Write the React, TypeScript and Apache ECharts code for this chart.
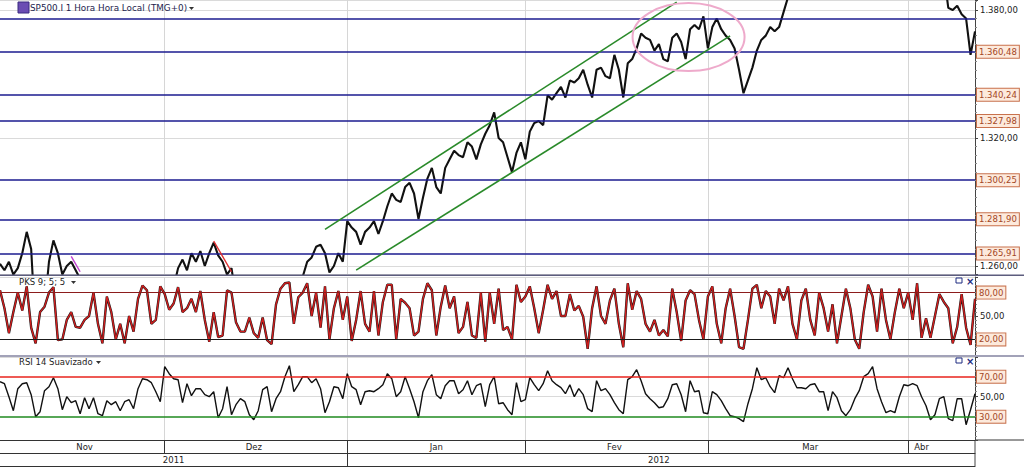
import React, { useEffect, useRef } from 'react';
import * as echarts from 'echarts';

// ---------- data ----------
const monthNames = ['Nov', 'Dez', 'Jan', 'Fev', 'Mar', 'Abr'];
const monthSamples = [37, 41, 40, 41, 45, 16];
const monthLabelAt = [19, 57, 98, 138, 182, 207];
const yearNames = ['2011', '2012'];
const yearLabelAt = [39, 148];

const price = [
  1261, 1258, 1262, 1256, 1259, 1266, 1276, 1268, 1230, 1236,
  1240, 1262, 1272, 1266, 1256, 1260, 1262, 1258, 1254, 1245,
  1236, 1225, 1218, 1216, 1222, 1212, 1200, 1193, 1188, 1180,
  1163, 1160, 1158, 1175, 1192, 1196, 1240,
  1246, 1244, 1250, 1259, 1263, 1258, 1266, 1262, 1267, 1260,
  1266, 1271, 1265, 1262, 1256, 1259, 1245, 1236, 1232, 1225,
  1214, 1210, 1215, 1220, 1210, 1203, 1225, 1240, 1244, 1248,
  1254, 1255, 1262, 1264, 1269, 1270, 1266, 1257, 1260, 1266, 1262,
  1281, 1278, 1276, 1270, 1276, 1278, 1281, 1275, 1281, 1288,
  1294, 1291, 1290, 1297, 1299, 1294, 1282, 1292, 1301, 1306,
  1297, 1294, 1306, 1310, 1314, 1312, 1311, 1318, 1316, 1310,
  1317, 1322, 1326, 1332, 1320, 1318, 1311, 1304, 1313, 1318,
  1310, 1323, 1327, 1328, 1326, 1340, 1338, 1341, 1344, 1339,
  1347, 1346, 1348, 1352, 1345, 1339, 1352, 1353, 1349, 1348,
  1359, 1352, 1339, 1355, 1357, 1362, 1369, 1367, 1366, 1361,
  1364, 1357, 1356, 1367, 1369, 1365, 1357, 1371, 1373, 1371, 1377,
  1362, 1372, 1376, 1371, 1368, 1366, 1362, 1352, 1341, 1347,
  1353, 1361, 1366, 1368, 1372, 1370, 1372, 1379, 1386, 1395,
  1396, 1394, 1398, 1402, 1403, 1405, 1404, 1408, 1409, 1406,
  1403, 1405, 1398, 1392, 1395, 1397, 1410, 1416, 1414, 1408,
  1405, 1401, 1404, 1406, 1409,
  1416, 1420, 1417, 1413, 1410, 1402, 1398, 1400, 1397, 1381,
  1380, 1382, 1378, 1376, 1359, 1370,
];

const pks = [
  83, 60, 28, 55, 80, 57, 88, 35, 15, 55,
  62, 80, 87, 19, 20, 45, 55, 36, 35, 45,
  50, 80, 40, 15, 75, 55, 20, 40, 15, 50,
  30, 72, 89, 83, 40, 45, 88,
  78, 58, 66, 87, 55, 60, 72, 55, 82, 45,
  17, 55, 23, 25, 83, 80, 42, 30, 30, 48,
  28, 22, 48, 19, 14, 65, 85, 92, 93, 40,
  74, 80, 92, 50, 80, 35, 88, 20, 60, 82, 45,
  75, 18, 45, 82, 40, 30, 82, 25, 68, 90,
  90, 20, 72, 67, 60, 25, 30, 72, 92, 83,
  25, 62, 89, 60, 75, 28, 36, 68, 25, 22,
  80, 17, 80, 40, 85, 32, 36, 20, 90, 68,
  75, 88, 60, 28, 58, 90, 72, 82, 50, 50,
  78, 57, 63, 49, 8, 60, 88, 50, 40, 70,
  85, 40, 10, 92, 58, 82, 72, 40, 30, 45,
  25, 32, 24, 85, 55, 18, 70, 83, 78, 45, 20,
  75, 88, 40, 15, 60, 85, 50, 10, 8, 45,
  85, 90, 60, 82, 75, 40, 85, 70, 88, 40,
  20, 70, 85, 45, 25, 80, 60, 30, 65, 15,
  50, 85, 60, 20, 8, 55, 90, 75, 30, 85,
  45, 20, 55, 85, 60,
  80, 45, 92, 22, 47, 22, 50, 78, 68, 60,
  15, 36, 78, 35, 13, 72,
];

const rsi = [
  65, 63, 50, 36, 58, 63, 64, 52, 30, 35,
  56, 60, 69, 58, 37, 50, 44, 46, 33, 49,
  38, 49, 33, 31, 46, 42, 45, 36, 45, 47,
  38, 58, 68, 67, 64, 55, 45,
  80, 73, 68, 67, 44, 63, 51, 58, 58, 52,
  50, 55, 29, 38, 60, 32, 42, 48, 45, 32,
  27, 36, 57, 60, 35, 48, 55, 70, 81, 55,
  62, 70, 70, 64, 68, 58, 34, 45, 60, 59, 48,
  73, 60, 57, 42, 55, 56, 55, 58, 62, 73,
  68, 50, 55, 70, 58, 45, 29, 55, 66, 72,
  52, 48, 61, 66, 66, 53, 57, 66, 52, 61,
  63, 40, 62, 70, 43, 44, 37, 32, 64, 45,
  47, 69, 62, 56, 63, 76, 66, 62, 59, 53,
  62, 50, 58, 52, 38, 35, 66, 56, 58, 52,
  44, 37, 33, 67, 70, 77, 66, 53, 48, 44,
  39, 40, 48, 62, 63, 52, 35, 66, 55, 56, 34,
  33, 55, 52, 46, 38, 31, 30, 28, 25, 43,
  58, 79, 67, 69, 60, 54, 71, 69, 79, 68,
  59, 59, 58, 62, 63, 55, 55, 36, 55, 49,
  36, 31, 37, 48, 56, 70, 73, 80, 58, 45,
  34, 36, 34, 50, 62,
  61, 63, 61, 50, 41, 27, 32, 48, 50, 28,
  26, 48, 48, 22, 37, 53,
];

const priceTicks = [1260, 1320, 1380];
const levels = [1375.8, 1360.48, 1340.24, 1327.98, 1300.25, 1281.9, 1265.91];
const levelLabeled = [false, true, true, true, true, true, true];
const channelUpper = [[73, 1277.2], [152, 1383.7]];
const channelLower = [[80, 1258.1], [164, 1367.9]];
const magentaLine = [[16, 1264.5], [18, 1257.3]];
const redLine = [[48, 1271.7], [52, 1257.3]];
const ellipseCenter = [155, 1367.3];
const pksLevels = [80, 20];
const rsiLevels = [70, 30];

// ---------- helpers ----------
const FONT = 'DejaVu Sans';
const fmt = (v: number) => {
  const [i, d] = v.toFixed(2).split('.');
  return i.replace(/\B(?=(\d{3})+(?!\d))/g, '.') + ',' + d;
};

const categories: string[] = [];
monthNames.forEach((m, mi) => {
  for (let k = 0; k < monthSamples[mi]; k++) categories.push(`${m} ${k + 1}`);
});
const monthStarts: number[] = [];
{
  let acc = 0;
  monthSamples.forEach((n) => {
    monthStarts.push(acc);
    acc += n;
  });
}
const boundaries = monthStarts.slice(1);
const yearBoundary = monthStarts[monthNames.indexOf('Jan')];

const boxLabel = (text: string) => ({
  show: true,
  position: 'end',
  distance: 2,
  formatter: text,
  color: '#a3461f',
  backgroundColor: '#fdeadc',
  borderColor: '#c8714d',
  borderWidth: 1,
  padding: [2, 2, 1, 2],
  fontSize: 8.5,
  fontFamily: FONT,
});

const baseX = (gridIndex: number) => ({
  type: 'category',
  gridIndex,
  data: categories,
  boundaryGap: false,
  position: 'bottom',
  axisLine: { show: false },
  axisTick: { show: false },
  axisLabel: { show: false },
  splitLine: {
    show: true,
    interval: (i: number) => boundaries.includes(i),
    lineStyle: { color: '#d6d6d6', width: 1 },
  },
});

const axisText = { fontSize: 8.5, fontFamily: FONT, color: '#222' };

const option: any = {
  animation: false,
  backgroundColor: '#ffffff',
  textStyle: { fontFamily: FONT },
  grid: [
    { left: 0, right: 49, top: 0, height: 274 },
    { left: 0, right: 49, top: 277, height: 78 },
    { left: 0, right: 49, top: 357, height: 83 },
  ],
  xAxis: [
    baseX(0),
    baseX(1),
    {
      ...baseX(2),
      axisLine: { show: true, lineStyle: { color: '#333', width: 1 } },
      axisTick: {
        show: true,
        interval: (i: number) => boundaries.includes(i),
        length: 13,
        lineStyle: { color: '#333' },
      },
      axisLabel: {
        show: true,
        interval: (i: number) => monthLabelAt.includes(i),
        formatter: (v: string) => v.split(' ')[0],
        margin: 2,
        ...axisText,
      },
    },
    {
      type: 'category',
      gridIndex: 2,
      data: categories,
      boundaryGap: false,
      position: 'bottom',
      offset: 13,
      axisLine: { show: true, lineStyle: { color: '#333', width: 1 } },
      axisTick: {
        show: true,
        interval: (i: number) => i === yearBoundary,
        length: 13,
        lineStyle: { color: '#333' },
      },
      axisLabel: {
        show: true,
        interval: (i: number) => yearLabelAt.includes(i),
        formatter: (_v: string, i: number) => (i < yearBoundary ? yearNames[0] : yearNames[1]),
        margin: 2,
        ...axisText,
      },
      splitLine: { show: false },
    },
  ],
  yAxis: [
    {
      type: 'value',
      gridIndex: 0,
      position: 'right',
      min: 1256.25,
      max: 1384.7,
      minInterval: 60,
      maxInterval: 60,
      axisLine: { show: true, lineStyle: { color: '#444' } },
      axisTick: { show: true, length: 3, lineStyle: { color: '#444' } },
      minorTick: { show: true, splitNumber: 15, length: 2, lineStyle: { color: '#888' } },
      axisLabel: {
        formatter: (v: number) => (priceTicks.includes(Math.round(v * 100) / 100) ? fmt(v) : ''),
        margin: 5,
        ...axisText,
      },
      splitLine: { show: true, lineStyle: { color: '#dadada' } },
    },
    {
      type: 'value',
      gridIndex: 1,
      position: 'right',
      min: 0,
      max: 100,
      minInterval: 50,
      maxInterval: 50,
      axisLine: { show: true, lineStyle: { color: '#444' } },
      axisTick: { show: true, length: 3, lineStyle: { color: '#444' } },
      minorTick: { show: true, splitNumber: 10, length: 2, lineStyle: { color: '#888' } },
      axisLabel: { formatter: (v: number) => (v === 50 ? fmt(v) : ''), margin: 5, ...axisText },
      splitLine: { show: true, lineStyle: { color: '#dadada' } },
    },
    {
      type: 'value',
      gridIndex: 2,
      position: 'right',
      min: 6.7,
      max: 89.7,
      minInterval: 50,
      maxInterval: 50,
      axisLine: { show: true, lineStyle: { color: '#444' } },
      axisTick: { show: true, length: 3, lineStyle: { color: '#444' } },
      minorTick: { show: true, splitNumber: 10, length: 2, lineStyle: { color: '#888' } },
      axisLabel: { formatter: (v: number) => (v === 50 ? fmt(v) : ''), margin: 5, ...axisText },
      splitLine: { show: true, lineStyle: { color: '#dadada' } },
    },
  ],
  series: [
    {
      name: 'SP500.I',
      type: 'line',
      xAxisIndex: 0,
      yAxisIndex: 0,
      data: price,
      symbol: 'none',
      clip: true,
      lineStyle: { color: '#111111', width: 2.1 },
      markLine: {
        silent: true,
        symbol: ['none', 'none'],
        data: [
          ...levels.map((v, k) => ({
            yAxis: v,
            lineStyle: { color: '#1b1b8f', width: 1.6, type: 'solid' },
            label: levelLabeled[k] ? boxLabel(fmt(v)) : { show: false },
          })),
          [
            { coord: channelUpper[0], lineStyle: { color: '#2a8a2a', width: 1.6, type: 'solid' }, label: { show: false } },
            { coord: channelUpper[1] },
          ],
          [
            { coord: channelLower[0], lineStyle: { color: '#2a8a2a', width: 1.6, type: 'solid' }, label: { show: false } },
            { coord: channelLower[1] },
          ],
          [
            { coord: magentaLine[0], lineStyle: { color: '#c040d0', width: 1.4, type: 'solid' }, label: { show: false } },
            { coord: magentaLine[1] },
          ],
          [
            { coord: redLine[0], lineStyle: { color: '#e03030', width: 1.4, type: 'solid' }, label: { show: false } },
            { coord: redLine[1] },
          ],
        ],
      },
    },
    {
      name: 'PKS fast',
      type: 'line',
      xAxisIndex: 1,
      yAxisIndex: 1,
      data: pks,
      symbol: 'none',
      lineStyle: { color: '#1a1a1a', width: 2.4 },
    },
    {
      name: 'PKS 9; 5; 5',
      type: 'line',
      xAxisIndex: 1,
      yAxisIndex: 1,
      data: pks,
      symbol: 'none',
      lineStyle: { color: '#d01e1e', width: 1.4 },
      markLine: {
        silent: true,
        symbol: ['none', 'none'],
        data: pksLevels.map((v, k) => ({
          yAxis: v,
          lineStyle: { color: k === 0 ? '#8c1c1c' : '#1a1a1a', width: 1, type: 'solid' },
          label: boxLabel(fmt(v)),
        })),
      },
    },
    {
      name: 'RSI 14 Suavizado',
      type: 'line',
      xAxisIndex: 2,
      yAxisIndex: 2,
      data: rsi,
      symbol: 'none',
      lineStyle: { color: '#111111', width: 1.4 },
      markLine: {
        silent: true,
        symbol: ['none', 'none'],
        data: rsiLevels.map((v, k) => ({
          yAxis: v,
          lineStyle: { color: k === 0 ? '#e8231d' : '#1f8a1f', width: 1.6, type: 'solid' },
          label: boxLabel(fmt(v)),
        })),
      },
    },
  ],
};

const navy = '#1c2a80';
const staticGraphic = [
  { type: 'rect', shape: { x: 18, y: 2, width: 11, height: 11 }, style: { fill: '#6b4db3', stroke: '#3b2a80', lineWidth: 1 } },
  { type: 'text', x: 30, y: 8, style: { text: 'SP500.I 1 Hora Hora Local (TMG+0)', fill: '#1e1e4e', fontSize: 8.8, fontFamily: FONT, verticalAlign: 'middle' } },
  { type: 'polygon', shape: { points: [[189, 7], [194, 7], [191.5, 10]] }, style: { fill: '#333' } },
  { type: 'text', x: 19, y: 282, style: { text: 'PKS 9; 5; 5', fill: '#222', fontSize: 8.5, fontFamily: FONT, verticalAlign: 'middle' } },
  { type: 'polygon', shape: { points: [[71, 281], [76, 281], [73.5, 284]] }, style: { fill: '#333' } },
  { type: 'text', x: 19, y: 362, style: { text: 'RSI 14 Suavizado', fill: '#222', fontSize: 8.5, fontFamily: FONT, verticalAlign: 'middle' } },
  { type: 'polygon', shape: { points: [[96, 361], [101, 361], [98.5, 364]] }, style: { fill: '#333' } },
  { type: 'rect', z: 10, shape: { x: 0, y: 274.5, width: 1024, height: 1.6 }, style: { fill: '#5d5d7e' } },
  { type: 'rect', z: 10, shape: { x: 0, y: 355, width: 1024, height: 2 }, style: { fill: '#a2a2b8' } },
  { type: 'rect', shape: { x: 956, y: 278, width: 6, height: 5 }, style: { fill: 'none', stroke: navy, lineWidth: 1 } },
  { type: 'text', x: 966, y: 281, style: { text: '×', fill: navy, fontSize: 10, fontWeight: 'bold', fontFamily: FONT, verticalAlign: 'middle' } },
  { type: 'rect', shape: { x: 956, y: 358, width: 6, height: 5 }, style: { fill: 'none', stroke: navy, lineWidth: 1 } },
  { type: 'text', x: 966, y: 361, style: { text: '×', fill: navy, fontSize: 10, fontWeight: 'bold', fontFamily: FONT, verticalAlign: 'middle' } },
  { type: 'line', shape: { x1: 975, y1: 440, x2: 1024, y2: 440 }, style: { stroke: '#333', lineWidth: 1 } },
  { type: 'line', shape: { x1: 975, y1: 440, x2: 975, y2: 467 }, style: { stroke: '#444', lineWidth: 1 } },
  { type: 'line', shape: { x1: 0, y1: 466.5, x2: 975, y2: 466.5 }, style: { stroke: '#333', lineWidth: 1 } },
];

export default function App() {
  const ref = useRef<HTMLDivElement>(null);
  useEffect(() => {
    document.body.style.margin = '0';
    const chart = echarts.init(ref.current as HTMLDivElement, undefined, { renderer: 'svg' });
    chart.setOption(option);
    const c = chart.convertToPixel({ seriesIndex: 0 }, ellipseCenter) as number[];
    chart.setOption({
      graphic: [
        ...staticGraphic,
        {
          type: 'ellipse',
          shape: { cx: c[0] - 1.5, cy: c[1], rx: 56, ry: 34 },
          style: { fill: 'none', stroke: '#eeaacb', lineWidth: 2 },
          z: 10,
        },
      ],
    });
    return () => chart.dispose();
  }, []);
  return <div ref={ref} style={{ width: 1024, height: 467, position: 'absolute', left: 0, top: 0 }} />;
}
